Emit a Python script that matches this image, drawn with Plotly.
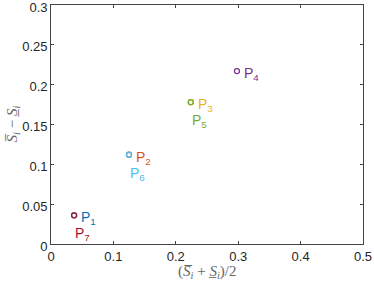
import plotly.graph_objects as go

names = ["P1", "P2", "P3", "P4", "P5", "P6", "P7"]
subs = ["1", "2", "3", "4", "5", "6", "7"]
xvals = [0.037, 0.125, 0.224, 0.298, 0.224, 0.125, 0.037]
yvals = [0.036, 0.112, 0.178, 0.217, 0.178, 0.112, 0.036]
colors = ["#0072BD", "#D95319", "#EDB120", "#7E2F8E", "#77AC30", "#4DBEEE", "#A2142F"]
# label placement: right of point or below point
placement = ["right", "right", "right", "right", "below", "below", "below"]
xtitle = "(<i>S̅</i><sub><i>i</i></sub> + <i>S̲</i><sub><i>i</i></sub>)/2"
ytitle = "<i>S̅</i><sub><i>i</i></sub> − <i>S̲</i><sub><i>i</i></sub>"

fig = go.Figure()
for i in range(len(names)):
    fig.add_trace(go.Scatter(
        x=[xvals[i]], y=[yvals[i]], mode="markers",
        marker=dict(symbol="circle-open", size=5, color=colors[i], line=dict(width=1.3, color=colors[i])),
        showlegend=False, hoverinfo="skip"))
    if placement[i] == "right":
        xs, ys = 5, -3
    else:
        xs, ys = -1, -19
    fig.add_annotation(
        x=xvals[i], y=yvals[i], xref="x", yref="y",
        text="P<sub>%s</sub>" % subs[i], showarrow=False,
        xanchor="left", yanchor="middle", xshift=xs, yshift=ys,
        font=dict(family="Liberation Sans, Arial", size=14, color=colors[i]))

title_font = dict(family="Liberation Serif, DejaVu Serif", size=15, color="#666666")
fig.add_annotation(x=0.5, y=0, xref="paper", yref="paper", text=xtitle, showarrow=False,
                   xanchor="center", yanchor="middle", yshift=-28, font=title_font)
fig.add_annotation(x=0, y=0.5, xref="paper", yref="paper", text=ytitle, showarrow=False,
                   textangle=-90, xanchor="center", yanchor="middle", xshift=-39, font=title_font)

axis_common = dict(
    showgrid=False, zeroline=False, showline=True, linecolor="#444444", linewidth=0.8,
    mirror="ticks", ticks="inside", ticklen=3, tickcolor="#444444", tickwidth=0.8,
    automargin=False, ticklabeloverflow="allow",
    tickfont=dict(family="Liberation Sans, Arial", size=13, color="#262626"))

fig.update_xaxes(range=[0, 0.5], tickvals=[0, 0.1, 0.2, 0.3, 0.4, 0.5],
                 ticktext=["0", "0.1", "0.2", "0.3", "0.4", "0.5"], **axis_common)
fig.update_yaxes(range=[0, 0.3], tickvals=[0, 0.05, 0.1, 0.15, 0.2, 0.25, 0.3],
                 ticktext=["0", "0.05", "0.1", "0.15", "0.2", "0.25", "0.3"],
                 ticklabelshift=2, **axis_common)

fig.update_layout(width=374, height=285, margin=dict(l=51, r=11, t=5, b=41),
                  plot_bgcolor="white", paper_bgcolor="white")
fig.write_html("out.html", config={"displayModeBar": False},
               post_script="document.body.style.margin='0';document.body.style.overflow='hidden';")
